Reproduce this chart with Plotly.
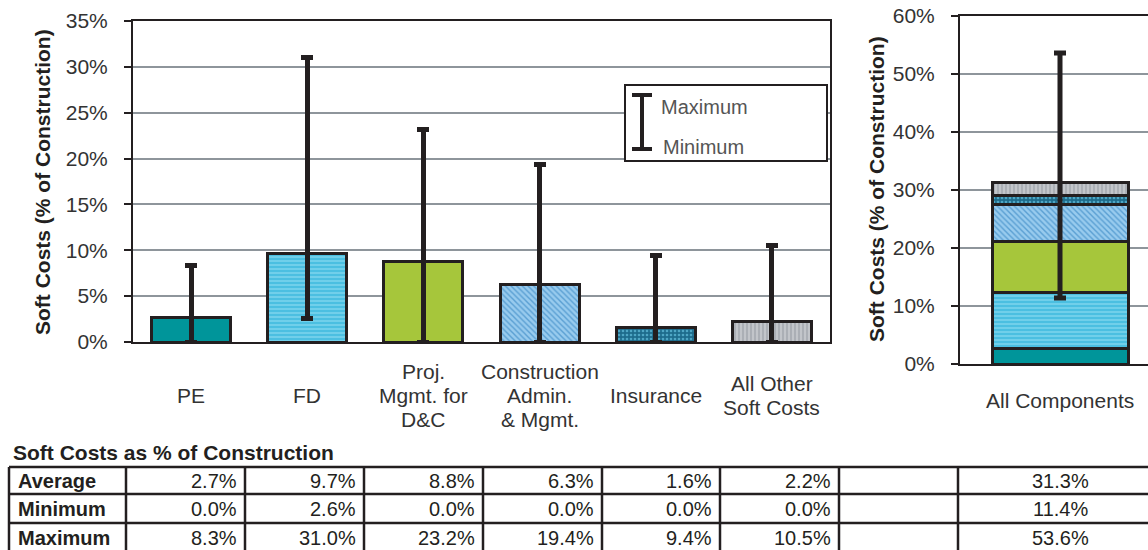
import plotly.graph_objects as go

W, H = 1148, 550
FONT = "Liberation Sans, Arial, sans-serif"
INK = "#231f20"
GRID = "#8e959b"

# data
categories = ["PE", "FD", "Proj", "Const", "Ins", "Other"]
cat_labels = ["PE", "FD", "Proj.<br>Mgmt. for<br>D&C", "Construction<br>Admin.<br>& Mgmt.",
              "Insurance", "All Other<br>Soft Costs"]
avg = [2.7, 9.7, 8.8, 6.3, 1.6, 2.2]
mins = [0.0, 2.6, 0.0, 0.0, 0.0, 0.0]
maxs = [8.3, 31.0, 23.2, 19.4, 9.4, 10.5]
total_label = "All Components"
total_avg = 31.3
total_min = 11.4
total_max = 53.6
row_names = ["Average", "Minimum", "Maximum"]

# styles per component
bg_colors = ["#00959a", "#70cfea", "#a6c63b", "#98cbee", "#1d6c8c", "#c2c5ca"]
fg_colors = ["#00959a", "#3ab9de", "#a6c63b", "#5a9fd3", "#4ea6c4", "#a2a6ad"]
shapes = ["", "-", "", "\\", ".", "|"]


def px(x):
    return x / W


def py(y):
    return 1 - y / H


def pattern(i):
    return dict(shape=shapes[i], fgcolor=fg_colors[i], bgcolor=bg_colors[i],
                size=4, solidity=0.35, fillmode="replace")


def note(x, y, text, xanchor="center", **kw):
    fig.add_annotation(x=x, y=y, xref="paper", yref="paper", text=text,
                       xanchor=xanchor, yanchor="middle", showarrow=False, **kw)


fig = go.Figure()

for i, c in enumerate(categories):
    fig.add_trace(go.Bar(
        x=[c], y=[avg[i]],
        marker=dict(color=bg_colors[i], line=dict(color=INK, width=3), pattern=pattern(i)),
        error_y=dict(type="data", symmetric=False, array=[maxs[i] - avg[i]],
                     arrayminus=[avg[i] - mins[i]], color=INK, thickness=5, width=6),
        showlegend=False, hoverinfo="skip",
    ))

for i in range(len(categories)):
    fig.add_trace(go.Bar(
        x=[total_label], y=[avg[i]], xaxis="x2", yaxis="y2",
        marker=dict(color=bg_colors[i], line=dict(color=INK, width=3), pattern=pattern(i)),
        showlegend=False, hoverinfo="skip",
    ))

fig.add_trace(go.Scatter(
    x=[total_label], y=[total_avg], xaxis="x2", yaxis="y2", mode="markers",
    marker=dict(size=1, color="rgba(0,0,0,0)"),
    error_y=dict(type="data", symmetric=False, array=[total_max - total_avg],
                 arrayminus=[total_avg - total_min], color=INK, thickness=5, width=6),
    showlegend=False, hoverinfo="skip",
))

axis_common = dict(showline=True, linecolor=INK, linewidth=2, zeroline=False,
                   automargin=False)
yaxis_common = dict(ticksuffix="%", showgrid=True, gridcolor=GRID, gridwidth=2,
                    ticks="outside", ticklen=7, tickcolor=INK, tickwidth=2,
                    ticklabelstandoff=12, tickfont=dict(size=21, color="#333333"))

fig.update_layout(
    width=W, height=H,
    margin=dict(l=0, r=0, t=0, b=0, autoexpand=False),
    paper_bgcolor="white", plot_bgcolor="white",
    barmode="stack", bargap=0.32,
    font=dict(family=FONT, size=21, color="#333333"),
    xaxis=dict(domain=[px(133), px(830)], showticklabels=False, ticks="",
               mirror=True, **axis_common),
    yaxis=dict(domain=[py(342), py(21)], range=[0, 35], dtick=5, mirror=True,
               **yaxis_common, **axis_common),
    xaxis2=dict(domain=[px(960), 1.0], range=[-0.5, 0.44], showticklabels=False,
                ticks="", mirror=True, anchor="y2", **axis_common),
    yaxis2=dict(domain=[py(364), py(16)], range=[0, 60], dtick=10, anchor="x2",
                **yaxis_common, **axis_common),
)

# category labels, one annotation per line for tighter leading
line_gap = 24
for c, lab in zip(categories, cat_labels):
    lines = lab.split("<br>")
    for k, ln in enumerate(lines):
        yy = 395 + (k - (len(lines) - 1) / 2) * line_gap
        fig.add_annotation(x=c, xref="x", y=py(yy), yref="paper", text=ln,
                           showarrow=False, xanchor="center", yanchor="middle",
                           font=dict(size=21, color="#333333"))
fig.add_annotation(x=total_label, xref="x2", y=py(400), yref="paper", text=total_label,
                   showarrow=False, xanchor="center", yanchor="middle",
                   font=dict(size=21, color="#333333"))

# axis titles
title_font = dict(size=21, color=INK, family=FONT)
note(px(42), py(182), "<b>Soft Costs (% of Construction)</b>", textangle=-90, font=title_font)
note(px(876), py(189), "<b>Soft Costs (% of Construction)</b>", textangle=-90, font=title_font)

# legend box
fig.add_shape(type="rect", xref="paper", yref="paper", x0=px(625), x1=px(827),
              y0=py(161), y1=py(85), line=dict(color=INK, width=2), fillcolor="white")
fig.add_shape(type="line", xref="paper", yref="paper", x0=px(642), x1=px(642),
              y0=py(95), y1=py(149), line=dict(color=INK, width=4))
for yy in (95, 149):
    fig.add_shape(type="line", xref="paper", yref="paper", x0=px(632), x1=px(652),
                  y0=py(yy), y1=py(yy), line=dict(color=INK, width=4))
note(px(659), py(107), "Maximum", xanchor="left", font=dict(size=20, color="#555555"))
note(px(661), py(147), "Minimum", xanchor="left", font=dict(size=20, color="#555555"))

# table under the charts
note(px(11), py(452), "<b>Soft Costs as % of Construction</b>", xanchor="left",
     font=title_font)

col_edges = [9, 126, 245, 364, 483, 602, 720, 839, 958]
row_edges = [467, 494, 523, 552]
last_col_center = 1060


def fmt(v):
    return f"{v:.1f}%"


table_rows = [
    [fmt(v) for v in avg] + ["", fmt(total_avg)],
    [fmt(v) for v in mins] + ["", fmt(total_min)],
    [fmt(v) for v in maxs] + ["", fmt(total_max)],
]
tline = dict(color=INK, width=2.5)
for ye in row_edges:
    fig.add_shape(type="line", xref="paper", yref="paper", x0=px(col_edges[0]), x1=1.0,
                  y0=py(ye), y1=py(ye), line=tline)
for xe in col_edges:
    fig.add_shape(type="line", xref="paper", yref="paper", x0=px(xe), x1=px(xe),
                  y0=py(row_edges[0]), y1=py(row_edges[-1]), line=tline)

table_font = dict(size=20, color=INK, family=FONT)
for r, (name, vals) in enumerate(zip(row_names, table_rows)):
    yc = py((row_edges[r] + row_edges[r + 1]) / 2)
    note(px(col_edges[0] + 7), yc, f"<b>{name}</b>", xanchor="left", font=table_font)
    for j, v in enumerate(vals[:-1]):
        if v:
            note(px(col_edges[j + 2] - 6), yc, v, xanchor="right", font=table_font)
    note(px(last_col_center), yc, vals[-1], font=table_font)

# page body has a default 8px margin; drop it so the figure fills the window
fig.write_html("out.html", config={"displayModeBar": False},
               post_script="document.body.style.margin='0';")
